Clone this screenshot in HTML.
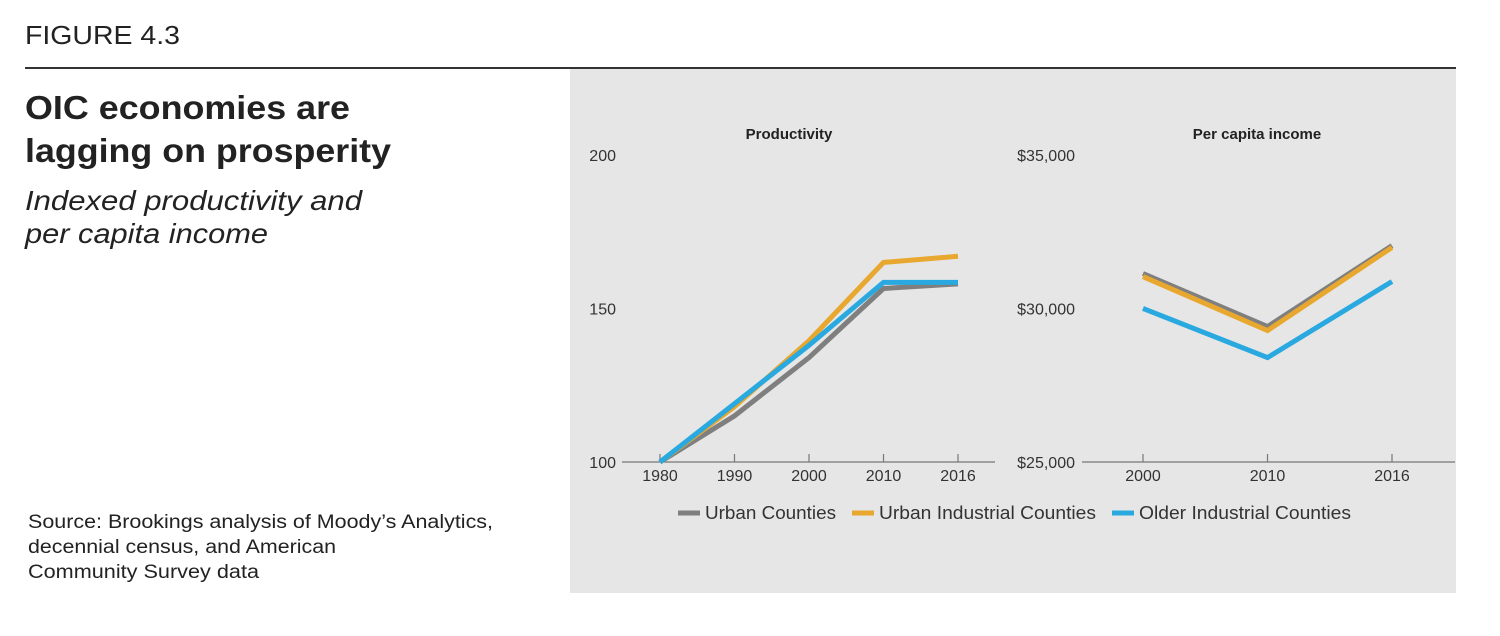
<!DOCTYPE html>
<html><head><meta charset="utf-8"><style>
html,body{margin:0;padding:0;background:#fff;}
svg{display:block;font-family:"Liberation Sans",sans-serif;}
</style></head><body>
<svg id="fig" width="1500" height="636" viewBox="0 0 1500 636">
<text x="25" y="44" font-size="26" fill="#222" textLength="155" lengthAdjust="spacingAndGlyphs">FIGURE 4.3</text>
<line x1="25" y1="68" x2="1456" y2="68" stroke="#333" stroke-width="2"/>
<rect x="570" y="69" width="886" height="524" fill="#e6e6e6"/>
<text x="25" y="119" font-size="33" font-weight="bold" fill="#222" textLength="325" lengthAdjust="spacingAndGlyphs">OIC economies are</text>
<text x="25" y="162" font-size="33" font-weight="bold" fill="#222" textLength="366" lengthAdjust="spacingAndGlyphs">lagging on prosperity</text>
<text x="25" y="210" font-size="28" font-style="italic" fill="#222" textLength="337" lengthAdjust="spacingAndGlyphs">Indexed productivity and</text>
<text x="25" y="243" font-size="28" font-style="italic" fill="#222" textLength="243" lengthAdjust="spacingAndGlyphs">per capita income</text>
<text x="28" y="528" font-size="19" fill="#222" textLength="465" lengthAdjust="spacingAndGlyphs">Source: Brookings analysis of Moody’s Analytics,</text>
<text x="28" y="553" font-size="19" fill="#222" textLength="308" lengthAdjust="spacingAndGlyphs">decennial census, and American</text>
<text x="28" y="578" font-size="19" fill="#222" textLength="231" lengthAdjust="spacingAndGlyphs">Community Survey data</text>
<g id="left"></g>
<g id="right"></g>
<g id="legend"></g>
</svg>
<script>
const seriesNames = ["Urban Counties","Urban Industrial Counties","Older Industrial Counties"];
const seriesColors = ["#7f7f7f","#e8a72e","#29a9df"];
const prodYears = [1980,1990,2000,2010,2016];
const prodUrban = [100,115,134,156.5,158];
const prodUrbanInd = [100,118,139.5,165,167];
const prodOlderInd = [100,119,138,158.5,158.5];
const prodTicks = [100,150,200];
const incYears = [2000,2010,2016];
const incUrban = [31140,29410,32050];
const incUrbanInd = [31040,29280,31990];
const incOlderInd = [30000,28400,30880];
const incTicks = [25000,30000,35000];

const NS="http://www.w3.org/2000/svg";
function mk(parent,tag,attrs,text){const e=document.createElementNS(NS,tag);for(const k in attrs)e.setAttribute(k,attrs[k]);if(text!==undefined)e.textContent=text;parent.appendChild(e);return e;}

function drawChart(g,cfg){
  const y=v=>cfg.y0-(v-cfg.vmin)/(cfg.vmax-cfg.vmin)*(cfg.y0-cfg.y1);
  const xpos=i=>cfg.xs+i*cfg.step;
  const t=mk(g,'text',{x:cfg.titleX,y:139,'font-size':15,'font-weight':'bold','text-anchor':'middle',fill:'#222'},cfg.title);
  
  
  const ax=mk(g,'line',{x1:cfg.ax0,x2:cfg.ax1,y1:cfg.y0,y2:cfg.y0,stroke:'#777','stroke-width':1.3});
  
  
  cfg.ticks.forEach(v=>{
    const l=mk(g,'text',{x:cfg.labelX,y:y(v)+6,'font-size':16,'text-anchor':'end',fill:'#333'},cfg.fmt(v));
    
    
  });
  cfg.cats.forEach((c,i)=>{
    const x=xpos(i);
    const tk=mk(g,'line',{x1:x,x2:x,y1:cfg.y0-8,y2:cfg.y0,stroke:'#777','stroke-width':1.2});
    
    
    const l=mk(g,'text',{x:x,y:cfg.y0+19,'font-size':16,'text-anchor':'middle',fill:'#333'},String(c));
    
    
  });
  cfg.series.forEach((s,si)=>{
    const pts=s.map((v,i)=>xpos(i).toFixed(1)+','+y(v).toFixed(1)).join(' ');
    const p=mk(g,'polyline',{points:pts,fill:'none',stroke:seriesColors[si],'stroke-width':5,'stroke-linejoin':'miter'});
    
    
  });
}
drawChart(document.getElementById('left'),{
  title:'Productivity',titleX:789,y0:462,y1:155,vmin:100,vmax:200,ax0:622,ax1:995,labelX:616,
  ticks:prodTicks,fmt:v=>String(v),cats:prodYears,xs:660,step:74.5,
  series:[prodUrban,prodUrbanInd,prodOlderInd]
});
drawChart(document.getElementById('right'),{
  title:'Per capita income',titleX:1257,y0:462,y1:155,vmin:25000,vmax:35000,ax0:1082,ax1:1455,labelX:1075,
  ticks:incTicks,fmt:v=>'$'+v.toLocaleString('en-US'),cats:incYears,xs:1143,step:124.5,
  series:[incUrban,incUrbanInd,incOlderInd]
});
const lg=document.getElementById('legend');
const lx=[678,852,1112];
const lw=[131,217,212];
seriesNames.forEach((n,i)=>{
  const l=mk(lg,'line',{x1:lx[i],x2:lx[i]+22,y1:513,y2:513,stroke:seriesColors[i],'stroke-width':5});
  
  
  const t=mk(lg,'text',{x:lx[i]+27,y:519,'font-size':18,fill:'#333',textLength:lw[i],lengthAdjust:'spacingAndGlyphs'},n);
  
  
});
</script>
</body></html>
